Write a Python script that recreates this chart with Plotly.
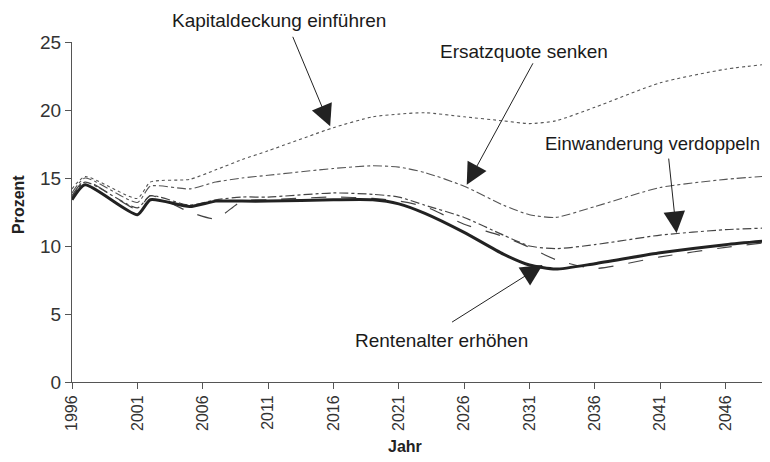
import plotly.graph_objects as go

# Daten
jahre = [1996, 1997, 2001, 2002, 2005, 2007, 2009, 2011, 2016, 2019, 2021,
         2023, 2026, 2029, 2031, 2033, 2036, 2041, 2046, 2050]

basis = [13.4, 14.5, 12.3, 13.4, 12.9, 13.3, 13.3, 13.3, 13.4, 13.4, 13.1,
         12.4, 11.0, 9.4, 8.6, 8.3, 8.7, 9.5, 10.1, 10.45]
rentenalter = [13.7, 14.8, 12.7, 13.7, 12.5, 12.0, 13.3, 13.4, 13.6, 13.5, 13.3,
               12.9, 11.6, 10.7, 9.9, 9.0, 8.35, 9.2, 9.9, 10.35]
einwanderung = [13.6, 14.7, 12.8, 13.7, 13.0, 13.4, 13.6, 13.6, 13.9, 13.8, 13.6,
                13.0, 12.1, 10.8, 10.0, 9.8, 10.1, 10.8, 11.2, 11.35]
ersatzquote = [13.9, 15.0, 13.2, 14.4, 14.2, 14.7, 15.0, 15.2, 15.7, 15.9, 15.8,
               15.4, 14.4, 13.0, 12.3, 12.1, 12.9, 14.3, 14.9, 15.2]
kapitaldeckung = [14.2, 15.1, 13.5, 14.7, 14.9, 15.6, 16.35, 17.0, 18.7, 19.5, 19.7,
                  19.8, 19.5, 19.2, 19.0, 19.2, 20.2, 22.0, 23.0, 23.45]

x_ticks = [1996, 2001, 2006, 2011, 2016, 2021, 2026, 2031, 2036, 2041, 2046]
y_ticks = [0, 5, 10, 15, 20, 25]

FONT = "Liberation Sans, Arial, sans-serif"
OFF = 8  # Seitenrand des Browsers
W, H = 770 - OFF, 462 - OFF
L, R, T, B = 72 - OFF, 0, 42 - OFF, 80


def px(x, y):
    # Bildpixel -> Papierkoordinaten
    x, y = x - OFF, y - OFF
    return (x - L) / (W - L - R), (H - B - y) / (H - T - B)


fig = go.Figure()

serien = [
    (kapitaldeckung, dict(color="#555", width=1.1, dash="dot")),
    (ersatzquote, dict(color="#555", width=1.1, dash="dashdot")),
    (einwanderung, dict(color="#444", width=1.2, dash="dashdot")),
    (rentenalter, dict(color="#444", width=1.2, dash="longdash")),
    (basis, dict(color="#222", width=3)),
]
for werte, linie in serien:
    fig.add_trace(go.Scatter(x=jahre, y=werte, mode="lines",
                             line=dict(shape="spline", smoothing=0.6, **linie),
                             hoverinfo="skip", showlegend=False))

# Beschriftungen
texte = [
    ("Kapitaldeckung einführen", 279, 20, 19),
    ("Ersatzquote senken", 524, 51, 19),
    ("Einwanderung verdoppeln", 652, 143, 18.5),
    ("Rentenalter erhöhen", 441, 340, 19),
]
for t, x, y, s in texte:
    xp, yp = px(x, y)
    fig.add_annotation(x=xp, y=yp, xref="paper", yref="paper", text=t,
                       xanchor="center", yanchor="middle", showarrow=False,
                       font=dict(family=FONT, size=s, color="#1a1a1a"))

# Pfeile (Spitze in Datenkoordinaten, Ende als Pixelversatz)
pfeile = [
    (2015.75, 18.8, -38, -91),
    (2026.2, 14.5, 67, -123),
    (2042.25, 10.95, -8, -76),
    (2032.0, 8.6, -92, 58),
]
for xa, ya, ax, ay in pfeile:
    fig.add_annotation(x=xa, y=ya, xref="x", yref="y", ax=ax, ay=ay, text="",
                       showarrow=True, arrowhead=2, arrowsize=4.3, arrowwidth=1,
                       arrowcolor="#222")

# Achsentitel
xp, yp = px(18, 205)
fig.add_annotation(x=xp, y=yp, xref="paper", yref="paper", text="<b>Prozent</b>",
                   textangle=-90, xanchor="center", yanchor="middle", showarrow=False,
                   font=dict(family=FONT, size=16, color="#222"))
xp, yp = px(405, 446)
fig.add_annotation(x=xp, y=yp, xref="paper", yref="paper", text="<b>Jahr</b>",
                   xanchor="center", yanchor="middle", showarrow=False,
                   font=dict(family=FONT, size=16, color="#222"))

fig.update_layout(
    width=W, height=H,
    margin=dict(l=L, r=R, t=T, b=B),
    plot_bgcolor="white", paper_bgcolor="white",
    font=dict(family=FONT, color="#333"),
)
fig.update_xaxes(range=[1996, 2049.4], tickvals=x_ticks, ticktext=[str(v) for v in x_ticks],
                 tickangle=-90, showgrid=False, zeroline=False,
                 showline=True, linecolor="#555", linewidth=1,
                 ticks="outside", ticklen=6, tickcolor="#555",
                 tickfont=dict(family=FONT, size=16, color="#333"))
fig.update_yaxes(range=[0, 25], tickvals=y_ticks, showgrid=False, zeroline=False,
                 showline=True, linecolor="#555", linewidth=1,
                 ticks="outside", ticklen=6, tickcolor="#555",
                 tickfont=dict(family=FONT, size=19, color="#333"))

fig.write_html("out.html")
